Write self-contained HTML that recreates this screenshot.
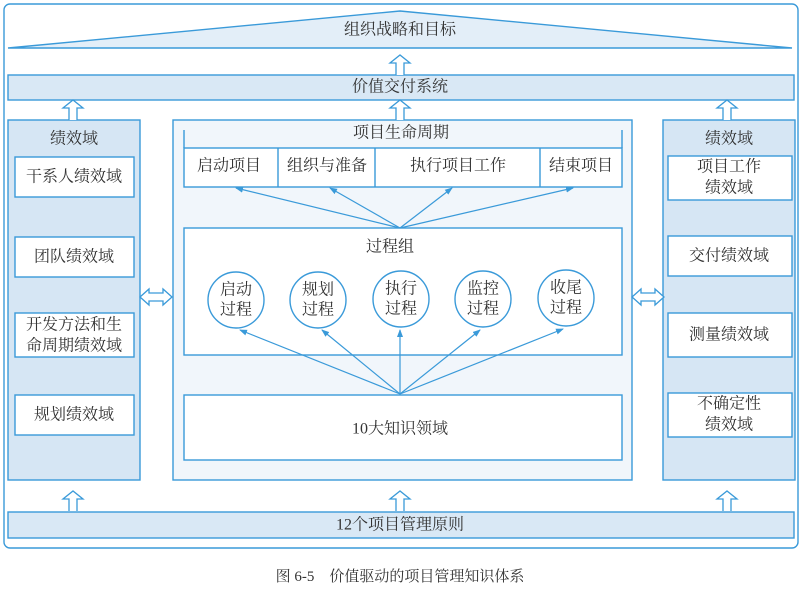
<!DOCTYPE html>
<html><head><meta charset="utf-8"><style>
body{margin:0;background:#fff}
svg text{font-family:"Liberation Serif","Noto Serif CJK SC","Noto Sans CJK SC",serif;fill:#333;text-anchor:middle;dominant-baseline:central}
</style></head><body>
<svg width="802" height="590" viewBox="0 0 802 590" xmlns="http://www.w3.org/2000/svg">
<defs>
<marker id="a" markerWidth="8" markerHeight="8" refX="7" refY="4" orient="auto" markerUnits="userSpaceOnUse"><path d="M0,1 L8,4 L0,7 Z" fill="#3a9ad9"/></marker>
<g id="up"><path d="M-4,20 L-4,8 L-10,8 L0,0 L10,8 L4,8 L4,20" fill="#fff" stroke="#3a9ad9" stroke-width="1.3"/></g>
<g id="dbl"><path d="M0,0 L9,-8 L9,-4 L23,-4 L23,-8 L32,0 L23,8 L23,4 L9,4 L9,8 Z" fill="#fff" stroke="#3a9ad9" stroke-width="1.3"/></g>
</defs>
<g stroke="#3a9ad9" stroke-width="1.4">
<rect x="4" y="4" width="794" height="544" rx="6" fill="#fff"/>
<path d="M8,48 L400,11 L792,48 Z" fill="#e3eef8"/>
<rect x="8" y="75" width="786" height="25" fill="#d9e8f5"/>
<rect x="8" y="120" width="132" height="360" fill="#d6e6f4"/>
<rect x="663" y="120" width="132" height="360" fill="#d6e6f4"/>
<rect x="173" y="120" width="459" height="360" fill="#f1f6fb"/>
<rect x="8" y="512" width="786" height="26" fill="#d9e8f5"/>
<g fill="#fff">
<rect x="15" y="157" width="119" height="40"/>
<rect x="15" y="237" width="119" height="40"/>
<rect x="15" y="313" width="119" height="44"/>
<rect x="15" y="395" width="119" height="40"/>
<rect x="668" y="156" width="124" height="44"/>
<rect x="668" y="236" width="124" height="40"/>
<rect x="668" y="313" width="124" height="44"/>
<rect x="668" y="393" width="124" height="44"/>
<rect x="184" y="148" width="438" height="39"/>
<rect x="184" y="228" width="438" height="127"/>
<rect x="184" y="395" width="438" height="65"/>
</g>
<path d="M184,130 L184,148 M622,130 L622,148 M278,148 L278,187 M375,148 L375,187 M540,148 L540,187" fill="none"/>
<g fill="#fff">
<circle cx="236" cy="300" r="28"/><circle cx="318" cy="300" r="28"/><circle cx="401" cy="299" r="28"/><circle cx="483" cy="299" r="28"/><circle cx="566" cy="298" r="28"/>
</g>
<g fill="none" stroke-width="1.2" marker-end="url(#a)">
<path d="M400,228 L236,188"/><path d="M400,228 L330,188"/><path d="M400,228 L452,188"/><path d="M400,228 L573,188"/>
<path d="M400,394 L240,330"/><path d="M400,394 L322,330"/><path d="M400,394 L400,330"/><path d="M400,394 L480,330"/><path d="M400,394 L563,329"/>
</g>
</g>
<use href="#up" x="73" y="100"/><use href="#up" x="400" y="100"/><use href="#up" x="727" y="100"/>
<use href="#up" x="400" y="55"/>
<use href="#up" x="73" y="491"/><use href="#up" x="400" y="491"/><use href="#up" x="727" y="491"/>
<use href="#dbl" x="140" y="297"/><use href="#dbl" x="632" y="297"/>
<g font-size="16">
<text x="400" y="30">组织战略和目标</text>
<text x="400" y="87">价值交付系统</text>
<text x="74" y="139">绩效域</text>
<text x="74" y="177">干系人绩效域</text>
<text x="74" y="257">团队绩效域</text>
<text x="74" y="325">开发方法和生</text>
<text x="74" y="346">命周期绩效域</text>
<text x="74" y="415">规划绩效域</text>
<text x="729" y="139">绩效域</text>
<text x="729" y="167">项目工作</text>
<text x="729" y="188">绩效域</text>
<text x="729" y="256">交付绩效域</text>
<text x="729" y="335">测量绩效域</text>
<text x="729" y="404">不确定性</text>
<text x="729" y="425">绩效域</text>
<text x="401" y="133">项目生命周期</text>
<text x="229" y="166">启动项目</text>
<text x="327" y="166">组织与准备</text>
<text x="458" y="166">执行项目工作</text>
<text x="581" y="166">结束项目</text>
<text x="390" y="247">过程组</text>
<text x="236" y="290">启动</text><text x="236" y="310">过程</text>
<text x="318" y="290">规划</text><text x="318" y="310">过程</text>
<text x="401" y="289">执行</text><text x="401" y="309">过程</text>
<text x="483" y="289">监控</text><text x="483" y="309">过程</text>
<text x="566" y="288">收尾</text><text x="566" y="308">过程</text>
<text x="400" y="429">10大知识领域</text>
<text x="400" y="525">12个项目管理原则</text>
</g>
<text x="400" y="577" font-size="15">图 6-5　价值驱动的项目管理知识体系</text>
</svg>
</body></html>
